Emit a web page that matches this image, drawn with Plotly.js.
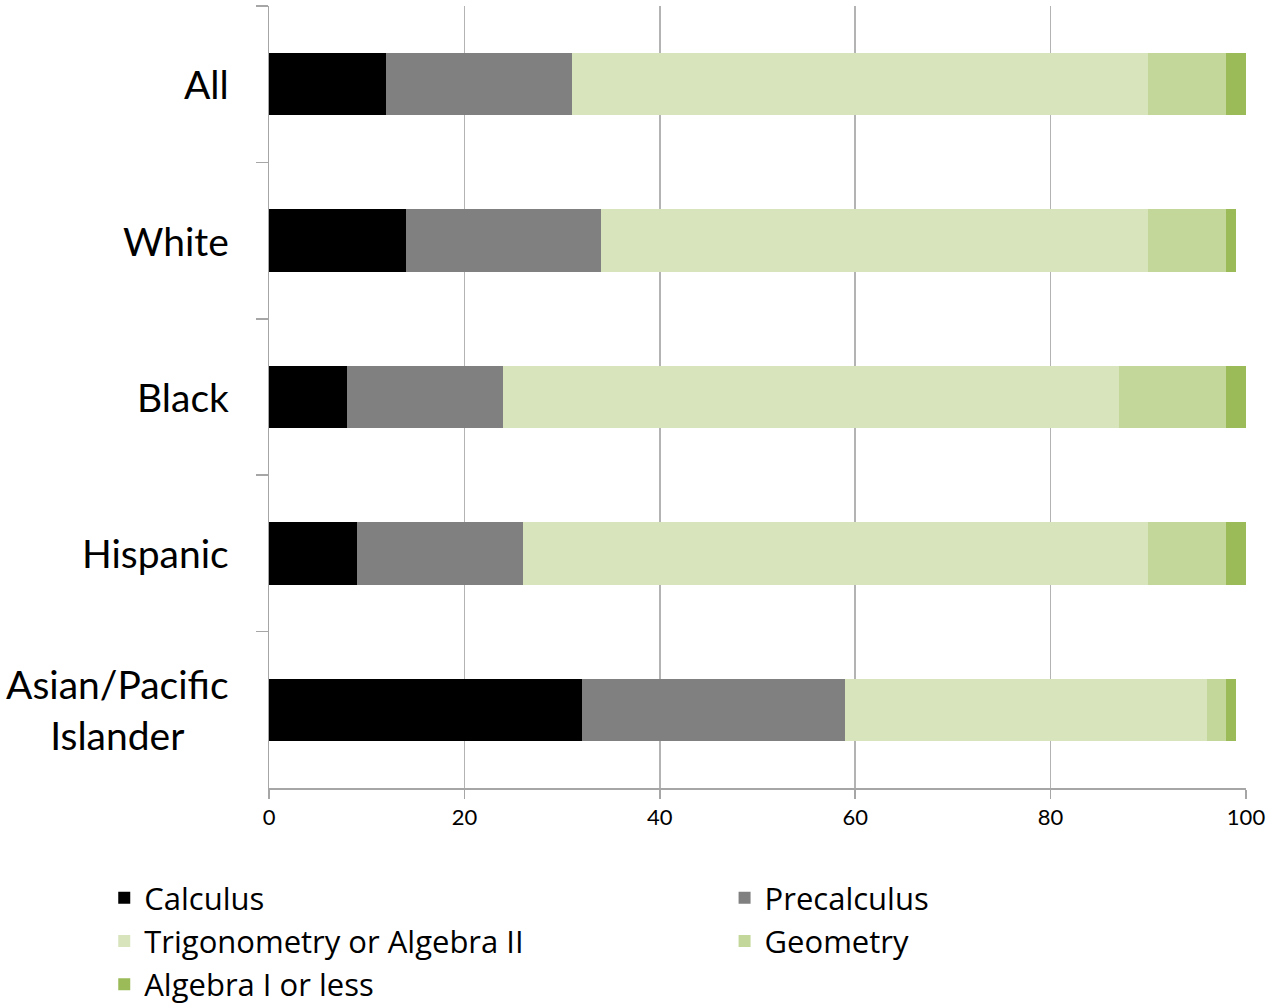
<!DOCTYPE html>
<html>
<head>
<meta charset="utf-8">
<script src="https://cdn.plot.ly/plotly-3.0.1.min.js"></script>
<style>html,body{margin:0;padding:0;background:#fff;}#chart{width:1287px;height:1007px;}</style>
</head>
<body>
<div id="chart"></div>
<script>
const categories = ["All", "White", "Black", "Hispanic", "Asian/Pacific<br>Islander"];
const seriesNames = ["Calculus", "Precalculus", "Trigonometry or Algebra II", "Geometry", "Algebra I or less"];
const calculus = [12, 14, 8, 9, 32];
const precalculus = [19, 20, 16, 17, 27];
const trigAlg2 = [59, 56, 63, 64, 37];
const geometry = [8, 8, 11, 8, 2];
const algebra1 = [2, 1, 2, 2, 1];
const colors = ["#000000", "#808080", "#d8e4bc", "#c4d79b", "#9bbb59"];
const xTicks = [0, 20, 40, 60, 80, 100];

const seriesValues = [calculus, precalculus, trigAlg2, geometry, algebra1];
const font = "Lato, 'Open Sans', sans-serif";
const legendFont = "'Open Sans', Lato, sans-serif";

const traces = seriesValues.map((vals, i) => ({
  type: "bar",
  orientation: "h",
  name: seriesNames[i],
  y: categories,
  x: vals,
  legend: (i % 2 === 0) ? "legend" : "legend2",
  marker: {color: colors[i], line: {width: 0}},
  hoverinfo: "x+name"
}));

const annotations = categories.map(c => ({
  x: -0.039, xref: "paper", xanchor: "right",
  y: c, yref: "y", yanchor: "middle",
  text: c, showarrow: false, align: "center",
  font: {family: font, size: 39, color: "#000"}
}));

const legendBase = {
  orientation: "v",
  xref: "container", yref: "container",
  xanchor: "left", yanchor: "top",
  y: 0.135,
  traceorder: "normal",
  font: {family: legendFont, size: 31, color: "#000"},
  itemclick: false, itemdoubleclick: false,
  tracegroupgap: 0
};

const layout = {
  width: 1287, height: 1007,
  margin: {l: 269, r: 41, t: 6, b: 219, autoexpand: false},
  paper_bgcolor: "#fff", plot_bgcolor: "#fff",
  barmode: "stack",
  bargap: 0.6,
  font: {family: font, color: "#000"},
  showlegend: true,
  xaxis: {
    range: [0, 100],
    tickvals: xTicks,
    ticktext: xTicks.map(String),
    showgrid: true, gridcolor: "#b3b3b3", gridwidth: 1.5,
    zeroline: false,
    showline: true, linecolor: "#a6a6a6", linewidth: 1.5,
    ticks: "outside", ticklen: 9, tickcolor: "#a6a6a6", tickwidth: 1.5,
    tickfont: {family: font, size: 22, color: "#000"},
    automargin: false,
    fixedrange: true
  },
  yaxis: {
    type: "category",
    categoryorder: "array", categoryarray: categories,
    autorange: "reversed",
    showticklabels: false,
    tickson: "boundaries",
    ticks: "outside", ticklen: 12, tickcolor: "#a6a6a6", tickwidth: 1.5,
    showgrid: false, zeroline: false,
    showline: true, linecolor: "#a6a6a6", linewidth: 1.5,
    automargin: false,
    fixedrange: true
  },
  legend: Object.assign({}, legendBase, {x: 0.081}),
  legend2: Object.assign({}, legendBase, {x: 0.563}),
  annotations: annotations
};

Plotly.newPlot("chart", traces, layout, {displayModeBar: false, staticPlot: true});
</script>
</body>
</html>
